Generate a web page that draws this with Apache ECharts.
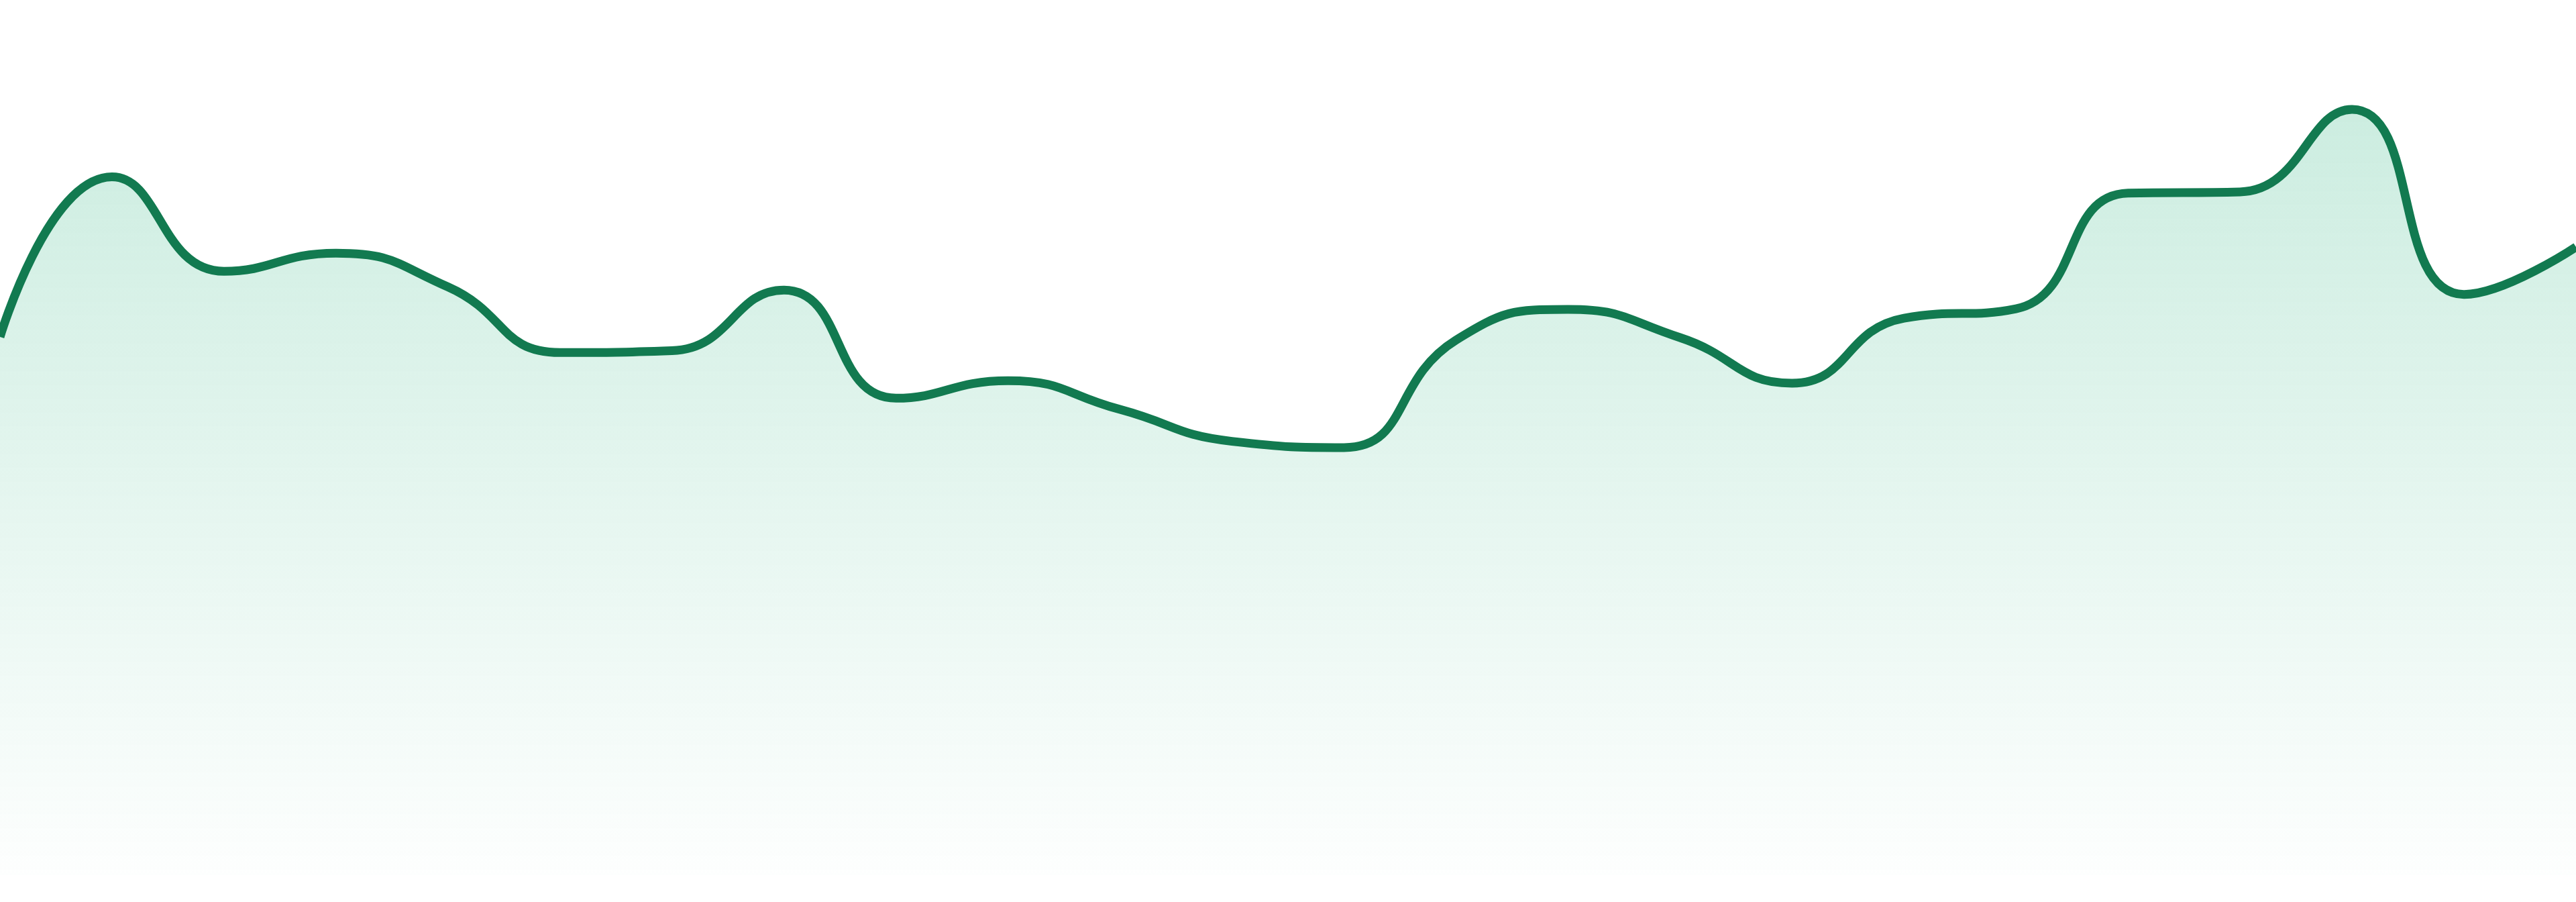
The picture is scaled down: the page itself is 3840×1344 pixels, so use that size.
<!DOCTYPE html>
<html>
<head>
<meta charset="utf-8">
<style>
  html, body { margin: 0; padding: 0; background: #ffffff; }
  #chart { width: 3840px; height: 1344px; }
</style>
<script src="https://cdn.jsdelivr.net/npm/echarts@6/dist/echarts.min.js"></script>
</head>
<body>
<div id="chart"></div>
<script>
// categories along the x axis (24 points, no labels shown)
var days = ['D1', 'D2', 'D3', 'D4', 'D5', 'D6', 'D7', 'D8', 'D9', 'D10', 'D11', 'D12',
            'D13', 'D14', 'D15', 'D16', 'D17', 'D18', 'D19', 'D20', 'D21', 'D22', 'D23', 'D24'];

// series values
var values = [86.1, 111.7, 96.6, 99.5, 94.1, 83.6, 83.9, 93.6, 76.3, 79.1, 74.5, 69.4,
              68.4, 85.6, 90.5, 86.0, 78.7, 89.1, 90.6, 109.1, 109.3, 122.5, 92.9, 100.5];

var yMin = 0;
var yMax = 140;

var chart = echarts.init(document.getElementById('chart'));

chart.setOption({
	animation: false,
	grid: {
		left: 0,
		right: 0,
		top: 0,
		bottom: 40
	},
	xAxis: {
		type: 'category',
		data: days,
		boundaryGap: false,
		show: false
	},
	yAxis: {
		type: 'value',
		min: yMin,
		max: yMax,
		show: false
	},
	series: [{
		type: 'line',
		data: values,
		smooth: true,
		showSymbol: false,
		lineStyle: {
			color: '#127a50',
			width: 13
		},
		areaStyle: {
			color: new echarts.graphic.LinearGradient(0, 0, 0, 1, [
				{ offset: 0, color: 'rgba(28,175,118,0.32)' },
				{ offset: 1, color: 'rgba(28,175,118,0.01)' }
			])
		}
	}]
});
</script>
</body>
</html>
